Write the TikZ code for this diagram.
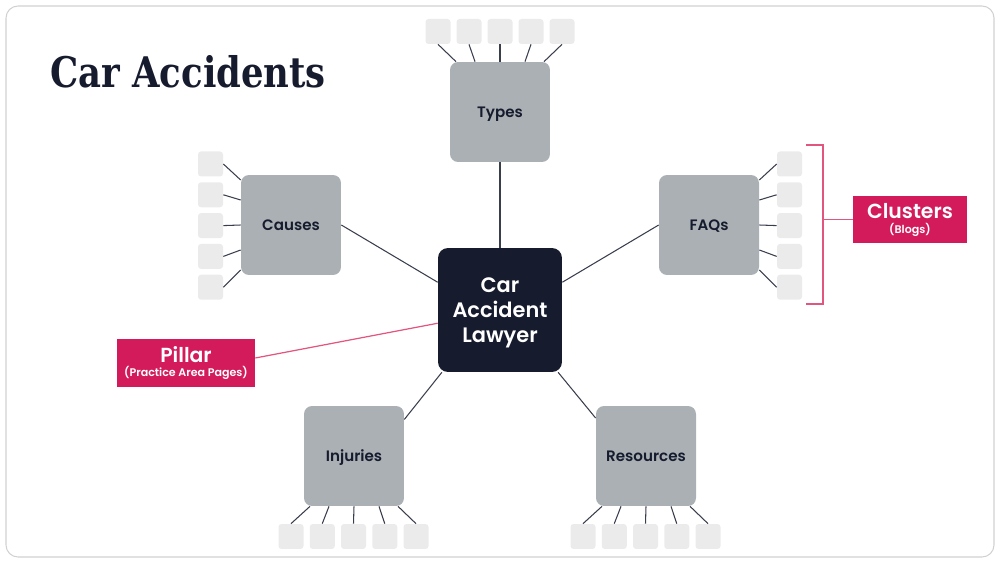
\documentclass[tikz,border=0pt]{standalone}
\usepackage{fontspec}
\setmainfont{Poppins}[UprightFont=* Medium, BoldFont=* SemiBold]
\newfontfamily\titlefont{DejaVu Serif}[FakeStretch=0.84]
\usepackage{tikz}
\usetikzlibrary{positioning, calc}
\definecolor{navy}{HTML}{161C2E}
\definecolor{hubgray}{HTML}{AAB0B3}
\definecolor{leafgray}{HTML}{EBEBEB}
\definecolor{accent}{HTML}{D31B5B}
\definecolor{accentline}{HTML}{E2557F}

\begin{document}
\begin{tikzpicture}[
  x=0.02cm, y=-0.02cm,
  frame/.style={draw=black!18, line width=0.6pt, rounded corners=0.24cm},
  hub/.style={fill=hubgray, rounded corners=0.16cm, minimum size=2cm, inner sep=0pt,
              text=navy, font=\bfseries\fontsize{8.6}{10}\selectfont,
              text height=6pt, text depth=0pt},
  core/.style={fill=navy, rounded corners=0.2cm, minimum size=2.48cm, inner sep=0pt,
               text=white, align=center, font=\bfseries\fontsize{11.9}{14.2}\selectfont,
               text height=36.7pt, text depth=0pt},
  leaf/.style={fill=leafgray, rounded corners=0.06cm, minimum size=0.5cm, inner sep=0pt},
  tag/.style={fill=accent, text=white, align=center, inner sep=0pt,
              font=\bfseries\fontsize{6.3}{8.3}\selectfont, text height=17.6pt, text depth=2pt},
  link/.style={draw=navy!85, line width=0.6pt},
  plink/.style={draw=accentline, line width=0.7pt},
]
\useasboundingbox (0,0) rectangle (1000,563);
\draw[frame] (6,6) rectangle (994,557);

% ---- title ----
\node[anchor=base west, inner sep=0pt, text=navy, font=\titlefont\bfseries\fontsize{24}{28}\selectfont]
  (title) at (50,88) {Car Accidents};

% ---- pillar page and its five topics ----
\node[core] (lawyer) at (500,310) {Car\\Accident\\Lawyer};
\node[hub] (types) at (500,112) {Types};
\node[hub] (causes) at (291,225) {Causes};
\node[hub] (faqs) at (709,225) {FAQs};
\node[hub] (injuries) at (354,456) {Injuries};
\node[hub] (resources) at (646,456) {Resources};

\draw[link] (types.south) -- (lawyer.north);
\draw[link] (causes.east) -- (lawyer.156);
\draw[link] (faqs.west) -- (lawyer.24);
\draw[link] (injuries.36) -- (lawyer.227);
\draw[link] (resources.143) -- (lawyer.313);

% ---- cluster posts round each topic ----
\foreach \k/\d in {1/-44, 2/-25, 3/0, 4/25, 5/44} {
  \node[leaf] (t\k) at ({438+31*(\k-1)},31.5) {};
  \draw[link] (t\k.south) -- ($(types.north)+(\d,0)$);
  \node[leaf] (i\k) at ({291+31.25*(\k-1)},536.5) {};
  \draw[link] (i\k.north) -- ($(injuries.south)+(\d,0)$);
  \node[leaf] (r\k) at ({583+31.25*(\k-1)},536.5) {};
  \draw[link] (r\k.north) -- ($(resources.south)+(\d,0)$);
}
\foreach \k/\d in {1/-45, 2/-25, 3/0, 4/25, 5/45} {
  \node[leaf] (c\k) at (210.5,{164+30.8*(\k-1)}) {};
  \draw[link] (c\k.east) -- ($(causes.west)+(0,\d)$);
  \node[leaf] (f\k) at (789.5,{164+30.8*(\k-1)}) {};
  \draw[link] (f\k.west) -- ($(faqs.east)+(0,\d)$);
}

% ---- callouts ----
\node[tag, minimum width=2.76cm, minimum height=0.96cm] (pillar) at (186,363)
  {{\bfseries\fontsize{11.6}{8.3}\selectfont Pillar}\\(Practice Area Pages)};
\draw[plink] ($(pillar.east)+(0,-5)$) -- (lawyer.192);

\node[tag, minimum width=2.28cm, minimum height=0.94cm] (clusters) at (910,219.5)
  {{\bfseries\fontsize{11.6}{8.3}\selectfont Clusters}\\(Blogs)};
\coordinate (btop) at (806,145);
\coordinate (bbot) at (806,304);
\draw[plink] (btop) -- (823,145) -- (823,304) -- (bbot);
\draw[plink] (823,219.5) -- (clusters.west);
\end{tikzpicture}
\end{document}
